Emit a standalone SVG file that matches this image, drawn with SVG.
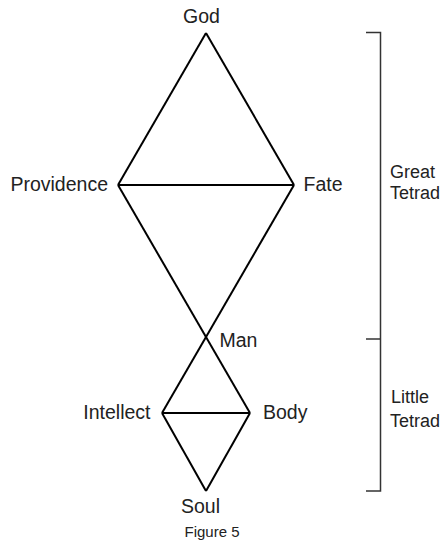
<svg xmlns="http://www.w3.org/2000/svg" width="447" height="546" viewBox="0 0 447 546">
<style>
.e{stroke:#000;stroke-width:2;fill:none;stroke-linejoin:miter}
.b{stroke:#333;stroke-width:1.5;fill:none}
text{font-family:"Liberation Sans",Arial,sans-serif;font-size:19.5px;fill:#222}
.t{font-size:18px}
.s{font-size:15px}
</style>
<rect width="447" height="546" fill="#fff"/>
<g id="connectors">
<line class="e" x1="206" y1="33" x2="118" y2="185"/>
<line class="e" x1="206" y1="33" x2="294" y2="185"/>
<line class="e" x1="118" y1="185" x2="294" y2="185"/>
<line class="e" x1="118" y1="185" x2="250" y2="413"/>
<line class="e" x1="294" y1="185" x2="162" y2="413"/>
<line class="e" x1="162" y1="413" x2="250" y2="413"/>
<line class="e" x1="162" y1="413" x2="206" y2="491"/>
<line class="e" x1="250" y1="413" x2="206" y2="491"/>
</g>
<g id="bracket">
<polyline class="b" points="366,32.5 380.5,32.5 380.5,491 366,491"/>
<line class="b" x1="366" y1="339" x2="380.5" y2="339"/>
</g>
<g id="god"><text x="201.5" y="22.7" text-anchor="middle">God</text></g>
<g id="providence"><text x="108" y="191" text-anchor="end">Providence</text></g>
<g id="fate"><text x="303.5" y="191">Fate</text></g>
<g id="man"><text x="219.5" y="346.7">Man</text></g>
<g id="intellect"><text x="150.5" y="418.5" text-anchor="end">Intellect</text></g>
<g id="body"><text x="263" y="418.5">Body</text></g>
<g id="soul"><text x="200.5" y="512.7" text-anchor="middle">Soul</text></g>
<g id="great-tetrad"><text class="t" x="390" y="178">Great</text><text class="t" x="390" y="198.5">Tetrad</text></g>
<g id="little-tetrad"><text class="t" x="391" y="403">Little</text><text class="t" x="390" y="427">Tetrad</text></g>
<g id="caption"><text class="s" x="212" y="536.7" text-anchor="middle">Figure 5</text></g>
</svg>
